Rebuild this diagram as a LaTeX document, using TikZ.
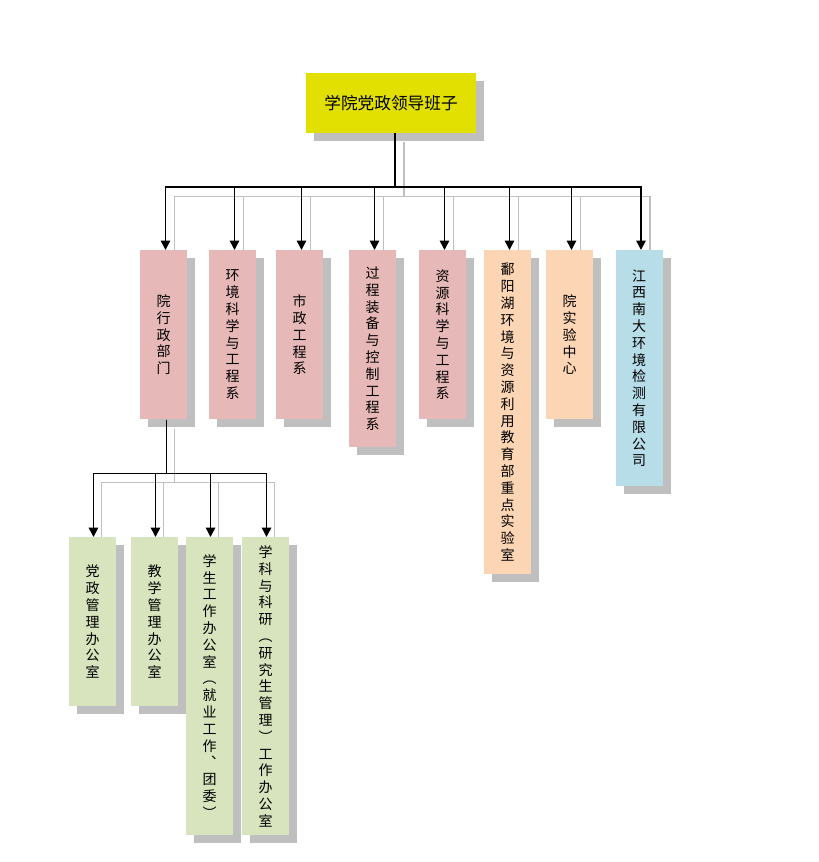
\documentclass[tikz,border=0pt]{standalone}
\usepackage{fontspec}
\newfontfamily\cjk{Noto Sans CJK SC}
\usetikzlibrary{arrows.meta, shadows, backgrounds}
\definecolor{shade}{HTML}{BFBFBF}
\definecolor{leadyel}{HTML}{E1E000}
\definecolor{deptpink}{HTML}{E6B8B7}
\definecolor{labpeach}{HTML}{FCD5B4}
\definecolor{corpblue}{HTML}{B7DDE8}
\definecolor{offgreen}{HTML}{D7E4BD}
\begin{document}
\begin{tikzpicture}[x=0.75pt, y=-0.75pt, font=\cjk\fontsize{10.5pt}{12.6pt}\selectfont,
    >={Triangle[width=7pt, length=7pt]},
    box/.style={inner sep=0pt, align=center, anchor=north, minimum width=35.25pt,
      drop shadow={shadow xshift=6pt, shadow yshift=-6pt, fill=shade, opacity=1}},
    link/.style={->, line width=1.2pt},
    ghost/.style={draw=shade, line width=0.9pt}]
  \useasboundingbox (0,0) rectangle (818,862);
  % leading group
  \node[box, fill=leadyel, anchor=center, minimum width=127.5pt, minimum height=45pt,
    font=\cjk\fontsize{12.5pt}{15pt}\selectfont] (lead) at (391,103) {学院党政领导班子};
  % departments, hanging from the leading group
  \foreach \n/\x/\h/\c/\t in {
      adm/163.5/126.75/deptpink/{院\\行\\政\\部\\门},
      env/232.5/126.75/deptpink/{环\\境\\科\\学\\与\\工\\程\\系},
      mun/299.5/126.75/deptpink/{市\\政\\工\\程\\系},
      proc/372.5/147.75/deptpink/{过\\程\\装\\备\\与\\控\\制\\工\\程\\系},
      res/442.5/126.75/deptpink/{资\\源\\科\\学\\与\\工\\程\\系},
      lab/507.5/243/labpeach/{鄱\\阳\\湖\\环\\境\\与\\资\\源\\利\\用\\教\\育\\部\\重\\点\\实\\验\\室},
      exp/569.5/126.75/labpeach/{院\\实\\验\\中\\心},
      corp/639/177/corpblue/{江\\西\\南\\大\\环\\境\\检\\测\\有\\限\\公\\司}} {
    \node[box, fill=\c, minimum height=\h pt] (\n) at (\x,250) {\t};
  }
  % offices under the administration
  \foreach \n/\x/\h/\t in {
      party/92.5/126.75/{党\\政\\管\\理\\办\\公\\室},
      teach/154.5/126.75/{教\\学\\管\\理\\办\\公\\室},
      stud/209.5/223.5/{学\\生\\工\\作\\办\\公\\室\\︵\\就\\业\\工\\作\\︑\\团\\委\\︶},
      sci/265.5/223.5/{学\\科\\与\\科\\研\\︵\\研\\究\\生\\管\\理\\︶\\工\\作\\办\\公\\室}} {
    \node[box, fill=offgreen, minimum height=\h pt] (\n) at (\x,537) {\t};
  }
  % connectors
  \foreach \n in {adm,env,mun,proc,res,lab,exp,corp} { \draw[link] ([shift={(4,0)}]lead.south) -- ++(0,54) -| ([shift={(2,0)}]\n.north); }
  \foreach \n in {party,teach,stud,sci} { \draw[link] ([shift={(3,0)}]adm.south) -- ++(0,54) -| ([shift={(1,0)}]\n.north); }
  % their grey shadows
  \begin{scope}[on background layer]
    \foreach \n in {adm,env,mun,proc,res,lab,exp,corp} { \draw[ghost] ([shift={(13,9)}]lead.south) -- ++(0,54) -| ([shift={(11,9)}]\n.north); }
    \foreach \n in {party,teach,stud,sci} { \draw[ghost] ([shift={(11,9)}]adm.south) -- ++(0,54) -| ([shift={(9,9)}]\n.north); }
  \end{scope}
\end{tikzpicture}
\end{document}
